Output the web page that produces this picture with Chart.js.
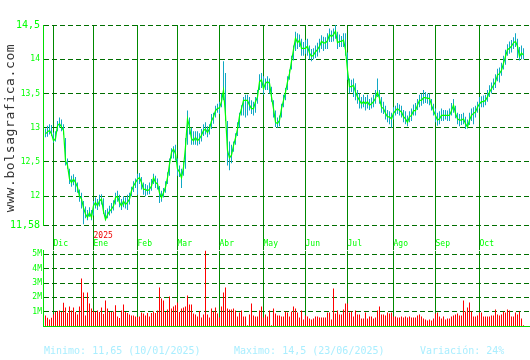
<!DOCTYPE html>
<html><head><meta charset="utf-8">
<script src="https://cdn.jsdelivr.net/npm/chart.js@4.4.1/dist/chart.umd.min.js"></script>
<style>
html,body{margin:0;padding:0;background:#fff;}
#wrap{position:relative;width:530px;height:360px;overflow:hidden;background:#fff;}
#cPrice{position:absolute;left:0;top:0;}
#cVol{position:absolute;left:0;top:245px;}
.wm{position:absolute;left:-75.5px;top:120.5px;width:170px;height:14px;line-height:14px;text-align:center;font-size:13px;letter-spacing:0.6px;font-family:'DejaVu Sans Mono',monospace;color:#333;transform:rotate(-90deg);white-space:nowrap;}
.ft{position:absolute;top:346px;font-size:10px;font-family:'DejaVu Sans Mono',monospace;line-height:10px;color:#aaeeff;white-space:pre;}
</style></head><body>
<div id="wrap">
<canvas id="cPrice" width="530" height="250"></canvas>
<canvas id="cVol" width="530" height="115"></canvas>
<div class="wm">www.bolsagrafica.com</div>
<div class="ft" style="left:44px">Minimo: 11,65 (10/01/2025)</div>
<div class="ft" style="left:234px">Maximo: 14,5 (23/06/2025)</div>
<div class="ft" style="left:420px">Variación: 24%</div>
</div>
<script>
// Month labels and the trading-day index where each month starts
const monthLabels = ['Dic','Ene','Feb','Mar','Abr','May','Jun','Jul','Ago','Sep','Oct'];
const monthStart  = [4,24,46,66,87,109,130,151,174,195,217];
const yearText = '2025';
const priceTicks = [11.58,12,12.5,13,13.5,14,14.5];
const volTicks = [1,2,3,4,5];

const closes = [
12.91,12.94,12.96,12.91,12.81,12.84,13.03,13.06,13.01,12.96,
12.52,12.45,12.25,12.20,12.25,12.20,12.13,12.00,11.96,11.83,
11.74,11.69,11.76,11.69,11.86,11.91,11.86,11.93,11.96,11.78,
11.66,11.73,11.78,11.81,11.86,11.98,12.00,11.91,11.86,11.93,
11.88,11.91,11.96,12.08,12.15,12.20,12.25,12.27,12.20,12.10,
12.10,12.08,12.10,12.15,12.27,12.20,12.18,12.05,11.98,12.05,
12.13,12.27,12.47,12.64,12.69,12.62,12.40,12.35,12.27,12.42,
12.72,13.13,13.01,12.84,12.81,12.86,12.81,12.84,12.89,12.96,
12.98,12.93,12.99,13.10,13.16,13.25,13.28,13.29,13.38,13.55,
13.18,12.67,12.56,12.60,12.74,12.85,12.98,13.17,13.28,13.40,
13.40,13.40,13.33,13.28,13.28,13.38,13.45,13.67,13.70,13.57,
13.65,13.67,13.65,13.45,13.28,13.08,13.06,13.11,13.28,13.40,
13.52,13.67,13.79,13.97,14.14,14.31,14.24,14.28,14.16,14.16,
14.16,14.19,14.09,14.04,14.06,14.11,14.14,14.19,14.26,14.24,
14.24,14.27,14.36,14.33,14.36,14.41,14.24,14.26,14.26,14.28,
14.14,13.84,13.60,13.60,13.62,13.52,13.45,13.40,13.35,13.38,
13.35,13.38,13.33,13.35,13.38,13.43,13.52,13.43,13.30,13.28,
13.21,13.16,13.16,13.13,13.21,13.25,13.28,13.25,13.23,13.16,
13.13,13.08,13.16,13.18,13.25,13.25,13.33,13.40,13.40,13.44,
13.44,13.43,13.43,13.33,13.25,13.18,13.11,13.13,13.18,13.18,
13.18,13.18,13.18,13.25,13.33,13.21,13.13,13.11,13.11,13.13,
13.06,13.01,13.11,13.18,13.21,13.23,13.30,13.35,13.38,13.38,
13.40,13.45,13.52,13.57,13.62,13.67,13.77,13.79,13.84,13.94,
14.04,14.14,14.16,14.19,14.24,14.26,14.19,14.04,14.09,14.06];

const highs = [
12.99,13.03,13.05,13.04,12.93,12.95,13.10,13.15,13.12,13.05,
12.85,12.55,12.40,12.30,12.32,12.28,12.20,12.10,12.05,11.93,
11.85,11.80,11.84,11.80,11.93,11.98,11.96,12.02,12.03,11.97,
11.80,11.82,11.86,11.90,11.94,12.05,12.08,12.02,11.96,12.00,
11.98,12.02,12.05,12.14,12.22,12.26,12.33,12.34,12.28,12.20,
12.18,12.16,12.20,12.25,12.33,12.30,12.26,12.15,12.08,12.12,
12.22,12.35,12.55,12.70,12.73,12.75,12.55,12.45,12.40,12.50,
12.85,13.25,13.15,13.00,12.95,12.95,12.95,12.92,12.98,13.05,
13.08,13.02,13.05,13.20,13.22,13.32,13.35,13.38,13.50,13.97,
13.80,13.10,12.80,12.75,12.80,12.92,13.08,13.22,13.33,13.45,
13.48,13.48,13.45,13.40,13.38,13.45,13.55,13.78,13.80,13.75,
13.72,13.75,13.72,13.60,13.40,13.25,13.15,13.18,13.35,13.48,
13.58,13.75,13.85,14.05,14.20,14.40,14.38,14.36,14.30,14.25,
14.28,14.30,14.20,14.15,14.16,14.20,14.24,14.30,14.35,14.33,
14.32,14.38,14.45,14.42,14.45,14.50,14.40,14.36,14.34,14.38,
14.38,14.10,13.72,13.70,13.72,13.65,13.55,13.50,13.45,13.48,
13.45,13.48,13.42,13.44,13.48,13.55,13.72,13.55,13.45,13.38,
13.32,13.26,13.24,13.22,13.30,13.32,13.36,13.34,13.32,13.26,
13.24,13.18,13.24,13.28,13.34,13.36,13.42,13.48,13.50,13.55,
13.52,13.50,13.50,13.42,13.35,13.28,13.22,13.24,13.28,13.26,
13.26,13.25,13.28,13.36,13.42,13.32,13.22,13.20,13.20,13.22,
13.16,13.12,13.22,13.28,13.30,13.32,13.38,13.45,13.46,13.47,
13.48,13.55,13.62,13.66,13.72,13.78,13.86,13.88,13.95,14.05,
14.14,14.22,14.26,14.28,14.32,14.38,14.30,14.18,14.20,14.16];

const lows = [
12.86,12.87,12.90,12.88,12.78,12.80,12.95,13.00,12.95,12.90,
12.45,12.40,12.18,12.14,12.16,12.06,12.05,11.92,11.82,11.59,
11.68,11.65,11.70,11.65,11.72,11.82,11.80,11.85,11.88,11.74,
11.65,11.68,11.72,11.75,11.79,11.88,11.92,11.84,11.80,11.84,
11.82,11.80,11.88,12.00,12.06,12.12,12.02,12.18,12.10,12.02,
12.00,12.02,12.03,12.08,12.18,12.12,12.10,11.90,11.92,11.98,
12.05,12.18,12.30,12.55,12.55,12.52,12.30,12.28,12.12,12.30,
12.40,12.75,12.90,12.75,12.75,12.75,12.74,12.76,12.80,12.88,
12.90,12.86,12.90,12.98,13.06,13.15,13.22,13.20,13.30,13.40,
13.10,12.45,12.38,12.48,12.65,12.75,12.88,13.00,13.18,13.18,
13.15,13.18,13.25,13.20,13.18,13.22,13.35,13.55,13.58,13.48,
13.55,13.55,13.50,13.38,13.15,13.01,13.00,13.02,13.15,13.30,
13.40,13.55,13.70,13.85,13.98,14.12,14.15,14.18,14.05,14.05,
14.08,14.05,14.00,13.97,14.00,14.02,14.04,14.10,14.15,14.12,
14.15,14.15,14.25,14.25,14.26,14.30,14.15,14.18,14.18,14.18,
14.05,13.70,13.50,13.52,13.45,13.40,13.35,13.28,13.28,13.30,
13.25,13.28,13.26,13.28,13.30,13.35,13.45,13.35,13.22,13.20,
13.12,13.08,13.05,13.00,13.12,13.18,13.20,13.18,13.15,13.08,
13.05,13.02,13.08,13.10,13.18,13.18,13.26,13.30,13.32,13.35,
13.36,13.35,13.33,13.25,13.18,13.08,13.03,13.05,13.10,13.10,
13.12,13.10,13.10,13.18,13.22,13.14,13.05,13.02,13.04,13.05,
12.98,12.99,13.04,13.10,13.05,13.15,13.22,13.28,13.30,13.30,
13.33,13.38,13.45,13.50,13.55,13.58,13.68,13.66,13.76,13.85,
13.92,14.05,14.08,14.10,14.15,14.18,14.02,13.98,14.00,14.00];

// volume in millions
const volumes = [
0.74,0.58,0.46,0.58,0.81,0.97,1.04,1.09,0.97,1.62,
1.30,0.90,1.37,1.09,1.30,0.97,0.81,1.37,3.31,2.34,
0.74,2.34,1.57,1.23,1.04,0.97,1.09,0.97,1.30,0.83,
1.78,1.23,0.97,0.97,1.02,1.44,0.67,0.56,1.09,1.50,
0.97,0.90,0.81,0.74,0.74,0.67,0.63,0.67,0.95,0.88,
0.74,0.90,0.67,0.90,1.02,0.90,1.09,2.69,1.92,1.78,
0.97,1.16,2.06,1.23,1.37,1.44,1.64,0.97,1.23,1.30,
1.37,2.13,1.50,1.50,0.88,0.81,0.67,1.04,0.60,0.81,
5.30,0.81,0.60,1.23,1.02,1.30,0.88,0.60,1.37,2.34,
2.69,1.23,1.16,1.16,1.23,1.09,0.67,0.95,1.09,0.67,
0.67,0.05,0.81,1.57,0.74,0.67,0.67,1.09,1.37,0.60,
0.81,0.67,1.09,0.05,1.23,0.88,0.74,0.74,0.67,0.67,
1.02,0.95,0.67,1.02,1.37,1.23,0.95,0.60,1.09,0.46,
0.74,0.67,0.53,0.46,0.53,0.67,0.67,0.60,0.60,0.60,
0.60,0.95,0.95,0.46,2.62,0.88,1.09,0.81,0.81,1.16,
1.57,1.57,0.95,1.02,0.67,1.09,0.81,0.81,0.53,0.53,
0.95,0.53,0.67,0.67,0.53,0.60,1.09,1.37,0.81,0.81,
0.74,0.95,0.88,0.95,0.67,0.67,0.60,0.60,0.67,0.60,
0.67,0.60,0.67,0.60,0.60,0.60,0.74,0.81,0.67,0.53,
0.46,0.39,0.46,0.39,0.53,0.88,0.95,0.67,0.53,0.67,
0.46,0.53,0.53,0.67,0.74,0.81,0.88,0.74,0.74,1.78,
1.02,1.30,1.64,1.02,0.67,0.67,0.74,0.95,0.95,0.67,
0.67,0.67,0.67,0.74,0.74,1.16,0.81,0.74,0.81,1.02,
0.95,1.16,1.09,0.67,0.67,0.95,0.81,1.02,0.53,0.05];

const FONT = "'DejaVu Sans Mono', monospace";
const X_MIN = -1.25, X_MAX = 242.25;
const GREEN = '#00ff00', AXIS = '#00dd00', VGRID = '#008800', HGRID = '#006e00';

const yearLabel = {
  id: 'yearLabel',
  afterDraw(chart) {
    const {ctx, scales: {x}} = chart;
    ctx.save();
    ctx.fillStyle = '#ee0000';
    ctx.font = '8px ' + FONT;
    ctx.textAlign = 'left';
    ctx.textBaseline = 'middle';
    ctx.fillText(yearText, x.getPixelForValue(monthStart[1]), 236);
    ctx.restore();
  }
};

const monthTicks = s => { s.ticks = monthStart.map(v => ({value: v})); };

new Chart(document.getElementById('cPrice'), {
  type: 'bar',
  data: {
    datasets: [
      { type: 'line', data: closes.map((c, i) => ({x: i, y: c})), borderColor: GREEN,
        borderWidth: 1.2, pointRadius: 0, tension: 0, order: 0 },
      { type: 'bar', data: lows.map((l, i) => ({x: i, y: [l, highs[i]]})),
        backgroundColor: '#10a8c4', barThickness: 1, borderWidth: 0, inflateAmount: 0, order: 1 }
    ]
  },
  options: {
    responsive: false, animation: false, devicePixelRatio: 1,
    layout: {padding: {top: 25, left: 0, right: 0, bottom: 0}},
    plugins: {legend: {display: false}, tooltip: {enabled: false}},
    scales: {
      x: {
        type: 'linear', min: X_MIN, max: X_MAX, offset: false,
        afterBuildTicks: monthTicks,
        afterFit: s => { s.height = 25; },
        grid: {offset: false, color: VGRID, lineWidth: 1, drawTicks: true, tickLength: 25, tickColor: VGRID},
        border: {display: false},
        ticks: {autoSkip: false, maxRotation: 0, minRotation: 0, align: 'start', padding: -11,
          color: GREEN, font: {family: FONT, size: 8}, callback: (v, i) => monthLabels[i]}
      },
      y: {
        type: 'linear', min: priceTicks[0], max: priceTicks[priceTicks.length - 1],
        afterBuildTicks: s => { s.ticks = priceTicks.map(v => ({value: v})); },
        afterFit: s => { s.width = 43; },
        grid: {color: HGRID, lineWidth: 1, drawTicks: false},
        border: {display: true, color: AXIS, width: 1, dash: [5, 3]},
        ticks: {
          padding: 3, color: GREEN,
          font: ctx => {
            const v = ctx.tick ? ctx.tick.value : 0;
            const big = (v === priceTicks[0] || v === priceTicks[priceTicks.length - 1]);
            return {family: FONT, size: big ? 10 : 8};
          },
          callback: v => String(v).replace('.', ',')
        }
      }
    }
  },
  plugins: [yearLabel]
});

new Chart(document.getElementById('cVol'), {
  type: 'bar',
  data: {
    datasets: [{ data: volumes.map((v, i) => ({x: i, y: v})), backgroundColor: '#ff0000',
      barThickness: 1, borderWidth: 0, inflateAmount: 0 }]
  },
  options: {
    responsive: false, animation: false, devicePixelRatio: 1,
    layout: {padding: {top: 5, left: 0, right: 0, bottom: 34}},
    plugins: {legend: {display: false}, tooltip: {enabled: false}},
    scales: {
      x: {
        type: 'linear', min: X_MIN, max: X_MAX, offset: false,
        afterBuildTicks: monthTicks,
        afterFit: s => { s.height = 0; },
        grid: {offset: false, color: VGRID, lineWidth: 1, drawTicks: false},
        border: {display: true, color: AXIS, width: 1},
        ticks: {display: false}
      },
      y: {
        type: 'linear', min: 0, max: 5.25,
        afterBuildTicks: s => { s.ticks = volTicks.map(v => ({value: v})); },
        afterFit: s => { s.width = 43; },
        grid: {color: HGRID, lineWidth: 1, drawTicks: false},
        border: {display: true, color: AXIS, width: 1, dash: [5, 3]},
        ticks: {padding: 1, color: GREEN, font: {family: FONT, size: 8}, callback: v => v + 'M'}
      }
    }
  }
});
</script>
</body></html>
